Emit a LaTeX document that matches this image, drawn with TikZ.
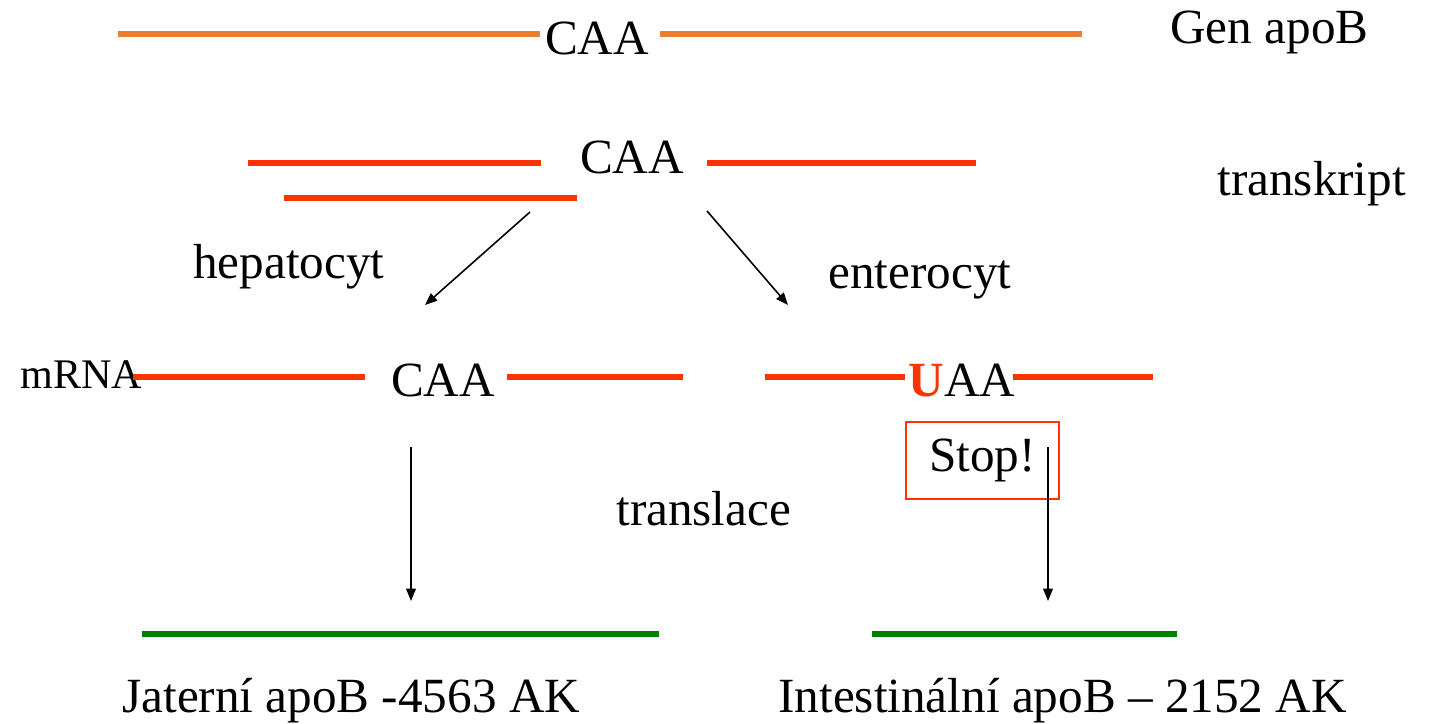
\documentclass[tikz,border=0pt]{standalone}
\usepackage{fontspec}
\setmainfont{Liberation Serif}
\usepackage{tikz}
\usetikzlibrary{arrows.meta, positioning}
\definecolor{gen_orange}{RGB}{237,125,49}
\definecolor{rna_red}{RGB}{255,51,0}
\definecolor{prot_green}{RGB}{0,128,0}
\tikzset{
	txt/.style={font=\fontsize{28}{32}\selectfont, inner sep=0pt, anchor=base west},
	txt_small/.style={font=\fontsize{24}{28}\selectfont, inner sep=0pt, anchor=base west},
	codon/.style={font=\fontsize{28}{32}\selectfont, inner sep=0pt, anchor=base},
	gen_strand/.style={draw=gen_orange, line width=3.2pt},
	rna_strand/.style={draw=rna_red, line width=3.2pt},
	prot_strand/.style={draw=prot_green, line width=3.2pt},
	step_arrow/.style={-{Triangle[length=7pt,width=5.5pt]}, draw=black, line width=0.9pt},
	stop_box/.style={rectangle, draw=rna_red, line width=0.8pt, minimum width=3.06cm, minimum height=1.54cm, font=\fontsize{28}{32}\selectfont}
}

\begin{document}
\begin{tikzpicture}[x=0.02cm, y=-0.02cm]
	\useasboundingbox (0,0) rectangle (1435,723);
	% gen
	\node[codon] (caa_gen) at (597,55) {CAA};
	\node[txt] (gen) at (1170,44) {Gen apoB};
	\coordinate (gen_a) at (118,34);
	\coordinate (gen_b) at (540,34);
	\coordinate (gen_c) at (660,34);
	\coordinate (gen_d) at (1082,34);
	\draw[gen_strand] (gen_a) -- (gen_b);
	\draw[gen_strand] (gen_c) -- (gen_d);
	% transkript
	\node[codon] (caa_tr) at (632,173) {CAA};
	\node[txt] (tr) at (1217,195) {transkript};
	\coordinate (tr_a) at (248,163);
	\coordinate (tr_b) at (541,163);
	\coordinate (tr_c) at (707,163);
	\coordinate (tr_d) at (976,163);
	\coordinate (tr_e) at (284,198);
	\coordinate (tr_f) at (577,198);
	\draw[rna_strand] (tr_a) -- (tr_b);
	\draw[rna_strand] (tr_c) -- (tr_d);
	\draw[rna_strand] (tr_e) -- (tr_f);
	% split
	\node[txt] (hep) at (193,278) {hepatocyt};
	\node[txt] (ent) at (828,288) {enterocyt};
	\coordinate (hep_from) at (530,212);
	\coordinate (hep_to) at (425,305);
	\coordinate (ent_from) at (707,211);
	\coordinate (ent_to) at (788,305);
	\draw[step_arrow] (hep_from) -- (hep_to);
	\draw[step_arrow] (ent_from) -- (ent_to);
	% mRNA
	\node[txt_small] (mrna) at (20,388) {mRNA};
	\node[codon] (caa_m) at (443,396) {CAA};
	\node[codon] (uaa_m) at (962,396) {{\color{rna_red}\textbf{U}}AA};
	\coordinate (m_a) at (133,377);
	\coordinate (m_b) at (365,377);
	\coordinate (m_c) at (507,377);
	\coordinate (m_d) at (683,377);
	\coordinate (m_e) at (765,377);
	\coordinate (m_f) at (905,377);
	\coordinate (m_g) at (1013,377);
	\coordinate (m_h) at (1153,377);
	\draw[rna_strand] (m_a) -- (m_b);
	\draw[rna_strand] (m_c) -- (m_d);
	\draw[rna_strand] (m_e) -- (m_f);
	\draw[rna_strand] (m_g) -- (m_h);
	\node[stop_box] (stop) at (982.5,460.5) {Stop!\hspace{17pt}};
	% translace
	\node[txt] (trl) at (616,525) {translace};
	\coordinate (jat_from) at (411,447);
	\coordinate (jat_to) at (411,601);
	\coordinate (int_from) at (1048,447);
	\coordinate (int_to) at (1048,601);
	\draw[step_arrow] (jat_from) -- (jat_to);
	\draw[step_arrow] (int_from) -- (int_to);
	% protein
	\coordinate (p_a) at (142,634);
	\coordinate (p_b) at (659,634);
	\coordinate (p_c) at (872,634);
	\coordinate (p_d) at (1177,634);
	\draw[prot_strand] (p_a) -- (p_b);
	\draw[prot_strand] (p_c) -- (p_d);
	\node[txt] (jat) at (122,712) {Jaterní apoB -4563 AK};
	\node[txt] (int) at (778,712) {Intestinální apoB – 2152 AK};
\end{tikzpicture}
\end{document}
